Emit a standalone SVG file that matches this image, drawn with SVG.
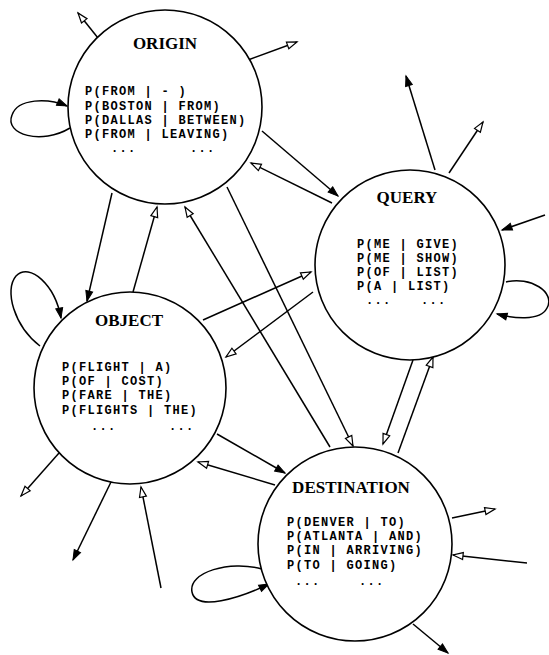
<svg xmlns="http://www.w3.org/2000/svg" width="549" height="655" viewBox="0 0 549 655">
<defs>
<style>
.node circle{fill:#fff;stroke:#000;stroke-width:1.6}
.title{font-family:"Liberation Serif","Times New Roman",serif;font-weight:bold;font-size:17px;text-anchor:middle;fill:#000}
.p{font-family:"Liberation Mono","Courier New",monospace;font-weight:bold;font-size:12px;letter-spacing:1.3px;fill:#000}
#edges path{fill:none;stroke:#000;stroke-width:1.5}
.h{marker-end:url(#hollow)}
.f{marker-end:url(#filled)}
</style>
<marker id="hollow" markerUnits="userSpaceOnUse" markerWidth="12" markerHeight="9" refX="10" refY="3.5" orient="auto" overflow="visible">
<path d="M0,0 L10,3.5 L0,7 z" fill="#fff" stroke="#000" stroke-width="1.2"/>
</marker>
<marker id="filled" markerUnits="userSpaceOnUse" markerWidth="12" markerHeight="9" refX="10" refY="3.5" orient="auto" overflow="visible">
<path d="M0,0 L10,3.5 L0,7 z" fill="#000" stroke="#000" stroke-width="1"/>
</marker>
</defs>
<rect width="549" height="655" fill="#fff"/>
<g id="edges">
<path class="f" d="M70,128 C42,145 4,135 12,115 C18,98 48,98 67,106"/>
<path class="h" d="M98,38 L78,13"/>
<path class="h" d="M248,60 L297,42"/>
<path class="f" d="M262,131 L338,196"/>
<path class="h" d="M332,203 L251,163"/>
<path class="f" d="M112,193 L87,301"/>
<path class="h" d="M133,292 L157,207"/>
<path class="h" d="M330,447 L185,207"/>
<path class="h" d="M227,187 L353,446"/>
<path class="h" d="M413,360 L383,444"/>
<path class="h" d="M398,453 L433,357"/>
<path class="f" d="M435,170 L406,76"/>
<path class="h" d="M449,173 L483,122"/>
<path class="f" d="M545,215 L502,230"/>
<path class="f" d="M506,282 C530,276 556,292 547,308 C540,322 512,318 497,314"/>
<path class="h" d="M203,320 L311,272"/>
<path class="h" d="M313,292 L226,357"/>
<path class="f" d="M40,346 C14,326 4,290 16,276 C30,262 55,285 61,318"/>
<path class="h" d="M59,453 L21,496"/>
<path class="f" d="M111,482 L73,560"/>
<path class="h" d="M161,588 L141,487"/>
<path class="h" d="M275,485 L198,462"/>
<path class="f" d="M217,434 L285,473"/>
<path class="f" d="M262,569 C230,560 188,572 192,592 C196,612 240,598 269,584"/>
<path class="h" d="M452,518 L495,509"/>
<path class="h" d="M527,563 L453,555"/>
<path class="f" d="M413,624 L448,653"/>
</g>
<g id="origin" class="node">
<circle cx="165" cy="107" r="97"/>
<text class="title" x="165" y="49">ORIGIN</text>
<text class="p" x="85" y="95">P(FROM | - )</text>
<text class="p" x="85" y="110">P(BOSTON | FROM)</text>
<text class="p" x="85" y="124">P(DALLAS | BETWEEN)</text>
<text class="p" x="85" y="138">P(FROM | LEAVING)</text>
<text class="p" x="111" y="152">...</text>
<text class="p" x="190" y="152">...</text>
</g>
<g id="query" class="node">
<circle cx="410" cy="265" r="95"/>
<text class="title" x="407" y="203">QUERY</text>
<text class="p" x="357" y="248">P(ME | GIVE)</text>
<text class="p" x="357" y="262">P(ME | SHOW)</text>
<text class="p" x="357" y="276">P(OF | LIST)</text>
<text class="p" x="357" y="290">P(A | LIST)</text>
<text class="p" x="366" y="304">...</text>
<text class="p" x="421" y="304">...</text>
</g>
<g id="object" class="node">
<circle cx="130" cy="388" r="96"/>
<text class="title" x="129" y="326">OBJECT</text>
<text class="p" x="62" y="371">P(FLIGHT | A)</text>
<text class="p" x="62" y="385">P(OF | COST)</text>
<text class="p" x="62" y="399">P(FARE | THE)</text>
<text class="p" x="62" y="414">P(FLIGHTS | THE)</text>
<text class="p" x="91" y="430">...</text>
<text class="p" x="169" y="430">...</text>
</g>
<g id="destination" class="node">
<circle cx="355" cy="544" r="97"/>
<text class="title" x="351" y="493">DESTINATION</text>
<text class="p" x="287" y="526">P(DENVER | TO)</text>
<text class="p" x="287" y="540">P(ATLANTA | AND)</text>
<text class="p" x="287" y="554">P(IN | ARRIVING)</text>
<text class="p" x="287" y="569">P(TO | GOING)</text>
<text class="p" x="295" y="585">...</text>
<text class="p" x="359" y="585">...</text>
</g>
</svg>
